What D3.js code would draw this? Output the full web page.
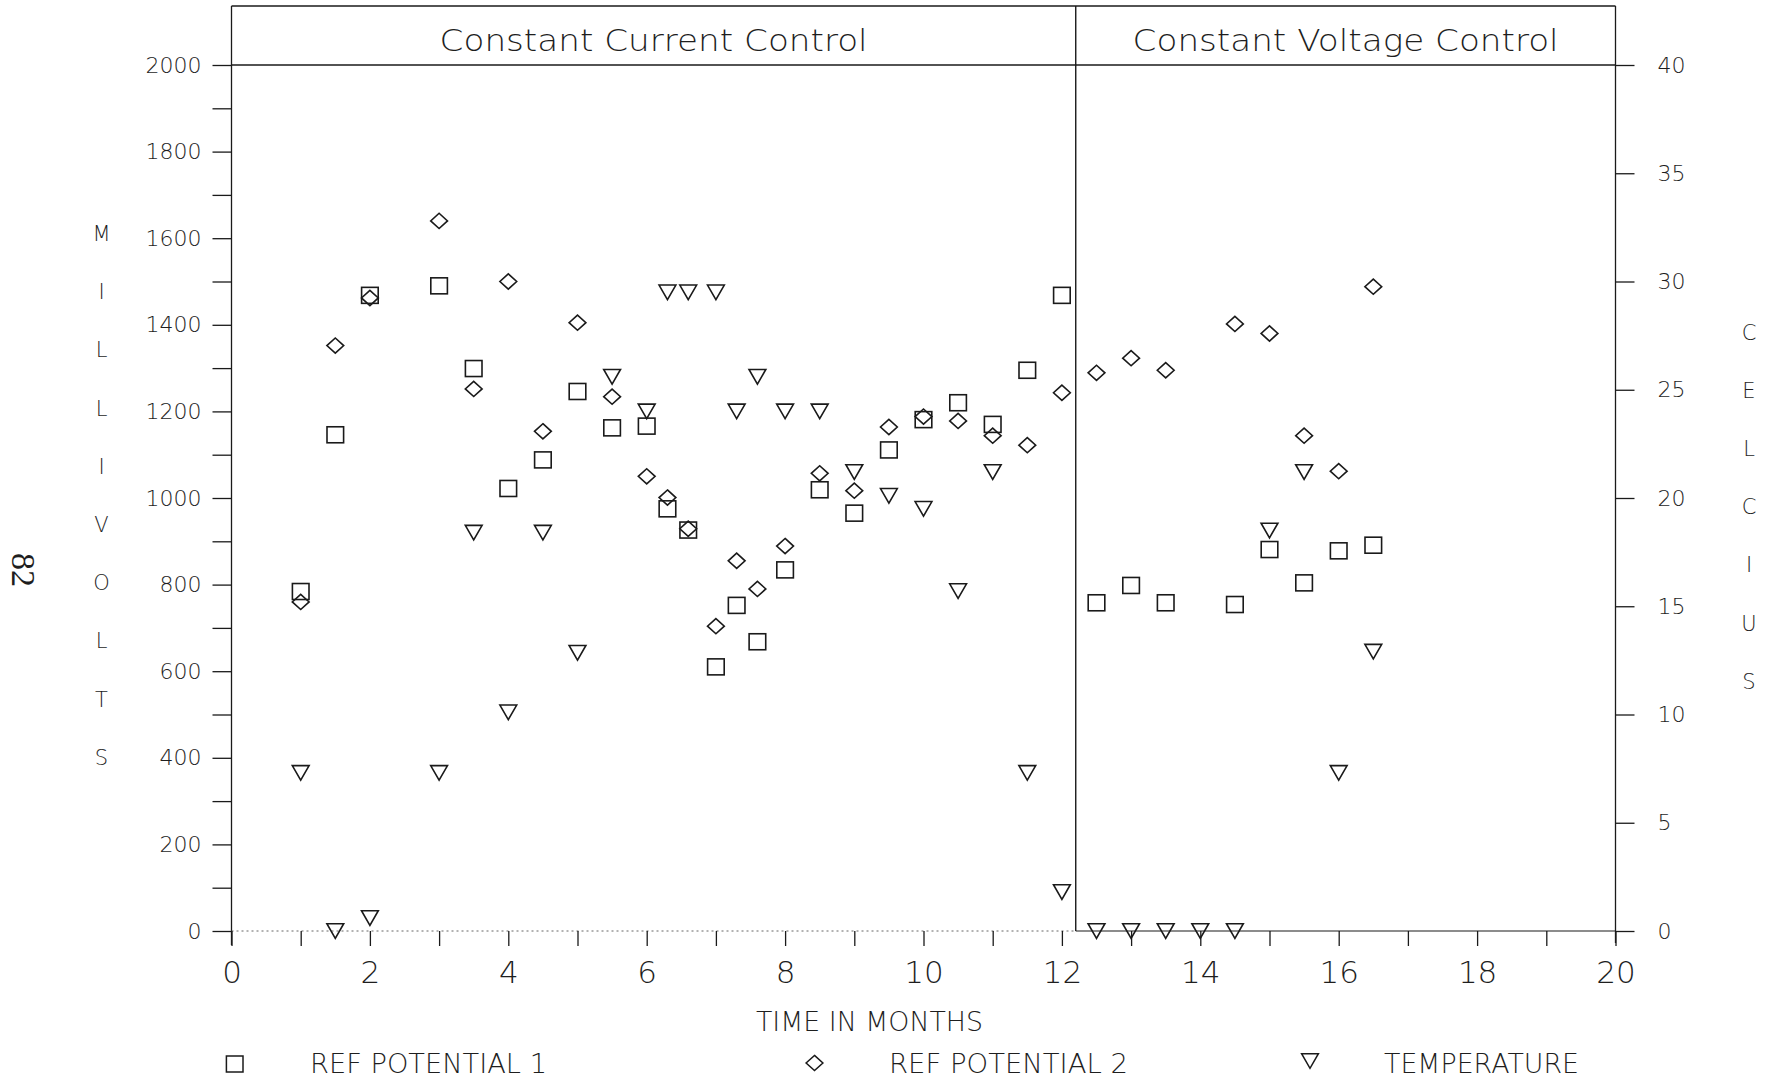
<!DOCTYPE html>
<html>
<head>
<meta charset="utf-8">
<script src="https://cdn.jsdelivr.net/npm/d3@7"></script>
<style>
  html, body { margin: 0; padding: 0; background: #fff; }
  svg { display: block; }
  text { font-family: "DejaVu Sans", sans-serif; fill: #1e1e1e; }
</style>
</head>
<body>
<svg id="chart" width="1768" height="1080"></svg>
<script>
// ---- data: time in months, reference potentials in mV, temperature in °C ----
const refMonths = [1, 1.5, 2, 3, 3.5, 4, 4.5, 5, 5.5, 6, 6.3, 6.6, 7, 7.3, 7.6, 8,
                   8.5, 9, 9.5, 10, 10.5, 11, 11.5, 12, 12.5, 13, 13.5, 14.5, 15, 15.5, 16, 16.5];
const refPotential1 = [784, 1146, 1468, 1490, 1299, 1022, 1088, 1246, 1162, 1166, 975, 926, 610, 752, 668, 834,
                       1019, 965, 1111, 1181, 1220, 1170, 1295, 1468, 758, 798, 758, 754, 881, 804, 878, 891];
const refPotential2 = [760, 1352, 1462, 1640, 1252, 1500, 1154, 1405, 1234, 1050, 1001, 929, 704, 855, 790, 889,
                       1057, 1017, 1164, 1188, 1178, 1144, 1122, 1243, 1289, 1323, 1295, 1402, 1380, 1144, 1062, 1488];
const tempMonths = [1, 1.5, 2, 3, 3.5, 4, 4.5, 5, 5.5, 6, 6.3, 6.6, 7, 7.3, 7.6, 8,
                    8.5, 9, 9.5, 10, 10.5, 11, 11.5, 12, 12.5, 13, 13.5, 14, 14.5, 15, 15.5, 16, 16.5];
const temperature = [7.3, 0, 0.6, 7.3, 18.4, 10.1, 18.4, 12.85, 25.6, 24, 29.5, 29.5, 29.5, 24, 25.6, 24,
                     24, 21.2, 20.1, 19.5, 15.7, 21.2, 7.3, 1.8, 0, 0, 0, 0, 0, 18.5, 21.2, 7.3, 12.9];

const phaseBoundary = 12.2;          // month where control mode switches
const phaseTitles = ["Constant Current Control", "Constant Voltage Control"];
const mvTicks = d3.range(0, 2001, 100);
const celsiusTicks = d3.range(0, 41, 5);
const monthTicks = d3.range(0, 21, 1);
const leftTitle = "MILLIVOLTS";
const rightTitle = "CELCIUS";
const xTitle = "TIME IN MONTHS";
const legendItems = ["REF POTENTIAL 1", "REF POTENTIAL 2", "TEMPERATURE"];
const pageNumber = "82";

// ---- layout ----
const ink = "#1a1a1a";
const frameTop = 6;
const x = d3.scaleLinear().domain([0, 20]).range([231.5, 1615.5]);
const yL = d3.scaleLinear().domain([0, 2000]).range([931, 65]);
const yR = d3.scaleLinear().domain([0, 40]).range([931, 65]);

const svg = d3.select("#chart");

// marker shapes
const shapes = {
  square: (g, cx, cy) => g.append("rect").attr("x", cx - 8.3).attr("y", cy - 8).attr("width", 16.6).attr("height", 16),
  diamond: (g, cx, cy) => g.append("path").attr("d", `M${cx},${cy - 7.6}L${cx + 8.4},${cy}L${cx},${cy + 7.6}L${cx - 8.4},${cy}Z`),
  triangle: (g, cx, cy) => g.append("path").attr("d", `M${cx - 8.4},${cy - 7.3}L${cx + 8.4},${cy - 7.3}L${cx},${cy + 7.3}Z`)
};

// ---- frame ----
const frame = svg.append("g").attr("fill", "none").attr("stroke", ink);
frame.append("line").attr("x1", x(0)).attr("x2", x(20)).attr("y1", frameTop).attr("y2", frameTop).attr("stroke-width", 1.3);
frame.append("line").attr("x1", x(0)).attr("x2", x(20)).attr("y1", yL(2000)).attr("y2", yL(2000)).attr("stroke-width", 1.3);
frame.append("line").attr("x1", x(0)).attr("x2", x(0)).attr("y1", frameTop).attr("y2", 945).attr("stroke-width", 1.3);
frame.append("line").attr("x1", x(20)).attr("x2", x(20)).attr("y1", frameTop).attr("y2", 943).attr("stroke-width", 1.3);
frame.append("line").attr("x1", x(phaseBoundary)).attr("x2", x(phaseBoundary)).attr("y1", frameTop).attr("y2", yL(0)).attr("stroke-width", 1.4);
// baseline: dotted under the constant current phase, solid after
frame.append("line").attr("x1", x(0)).attr("x2", x(phaseBoundary)).attr("y1", yL(0)).attr("y2", yL(0))
  .attr("stroke", "#666").attr("stroke-width", 1).attr("stroke-dasharray", "2,3");
frame.append("line").attr("x1", x(phaseBoundary)).attr("x2", x(20)).attr("y1", yL(0)).attr("y2", yL(0)).attr("stroke-width", 1.2);

// phase titles
const phaseCenters = [(x(0) + x(phaseBoundary)) / 2, (x(phaseBoundary) + x(20)) / 2];
const phaseWidths = [428, 426];
phaseTitles.forEach((t, i) => {
  svg.append("text").attr("x", phaseCenters[i]).attr("y", 51).attr("text-anchor", "middle")
    .attr("textLength", phaseWidths[i]).attr("lengthAdjust", "spacingAndGlyphs")
    .style("font-size", "31px").style("font-weight", 200).text(t);
});

// ---- axes ----
const gL = svg.append("g").attr("transform", `translate(${x(0)},0)`).style("color", ink)
  .call(d3.axisLeft(yL).tickValues(mvTicks).tickSize(19).tickPadding(11)
    .tickFormat(d => d % 200 === 0 ? d : ""));
gL.select(".domain").remove();
gL.selectAll("line").attr("stroke-width", 1.3);
gL.selectAll("text").style("font-size", "22px").style("font-weight", 200);

const gR = svg.append("g").attr("transform", `translate(${x(20)},0)`).style("color", ink)
  .call(d3.axisRight(yR).tickValues(celsiusTicks).tickSize(19).tickPadding(23));
gR.select(".domain").remove();
gR.selectAll("line").attr("stroke-width", 1.3);
gR.selectAll("text").style("font-size", "22px").style("font-weight", 200);

const gX = svg.append("g").attr("transform", `translate(0,${yL(0)})`).style("color", ink)
  .call(d3.axisBottom(x).tickValues(monthTicks).tickSize(15).tickPadding(15)
    .tickFormat(d => d % 2 === 0 ? d : ""));
gX.select(".domain").remove();
gX.selectAll("line").attr("stroke-width", 1.3);
gX.selectAll("text").style("font-size", "31px").style("font-weight", 200);

// stacked axis titles
const letterStep = 58.2;
leftTitle.split("").forEach((c, i) => {
  svg.append("text").attr("x", 101.5).attr("y", 233.5 + i * letterStep).attr("dy", "0.36em")
    .attr("text-anchor", "middle").style("font-size", "21px").style("font-weight", 200).text(c);
});
rightTitle.split("").forEach((c, i) => {
  svg.append("text").attr("x", 1749).attr("y", 332 + i * letterStep).attr("dy", "0.36em")
    .attr("text-anchor", "middle").style("font-size", "21px").style("font-weight", 200).text(c);
});

svg.append("text").attr("x", 869.5).attr("y", 1031).attr("text-anchor", "middle")
  .attr("textLength", 227).attr("lengthAdjust", "spacingAndGlyphs")
  .style("font-size", "26px").style("font-weight", 200).text(xTitle);

// page number
svg.append("text").attr("transform", "translate(24,570) rotate(90)").attr("text-anchor", "middle")
  .attr("dy", "0.35em").style("font-family", "'Liberation Serif', serif").style("font-size", "34px")
  .text(pageNumber);

// ---- data marks ----
const marks = svg.append("g").attr("fill", "none").attr("stroke", ink).attr("stroke-width", 1.6);
refMonths.forEach((m, i) => shapes.square(marks, x(m), yL(refPotential1[i])));
refMonths.forEach((m, i) => shapes.diamond(marks, x(m), yL(refPotential2[i])));
tempMonths.forEach((m, i) => shapes.triangle(marks, x(m), yR(temperature[i])));

// ---- legend ----
const legend = [
  { shape: "square", sx: 234.7, sy: 1064, tx: 310, len: 237 },
  { shape: "diamond", sx: 814.5, sy: 1063, tx: 889, len: 239 },
  { shape: "triangle", sx: 1310, sy: 1061, tx: 1384, len: 195 }
];
const lg = svg.append("g");
legend.forEach((l, i) => {
  const s = shapes[l.shape](lg, l.sx, l.sy);
  s.attr("fill", "none").attr("stroke", ink).attr("stroke-width", 1.5);
  lg.append("text").attr("x", l.tx).attr("y", 1073)
    .attr("textLength", l.len).attr("lengthAdjust", "spacingAndGlyphs")
    .style("font-size", "27px").style("font-weight", 200).text(legendItems[i]);
});
</script>
</body>
</html>
